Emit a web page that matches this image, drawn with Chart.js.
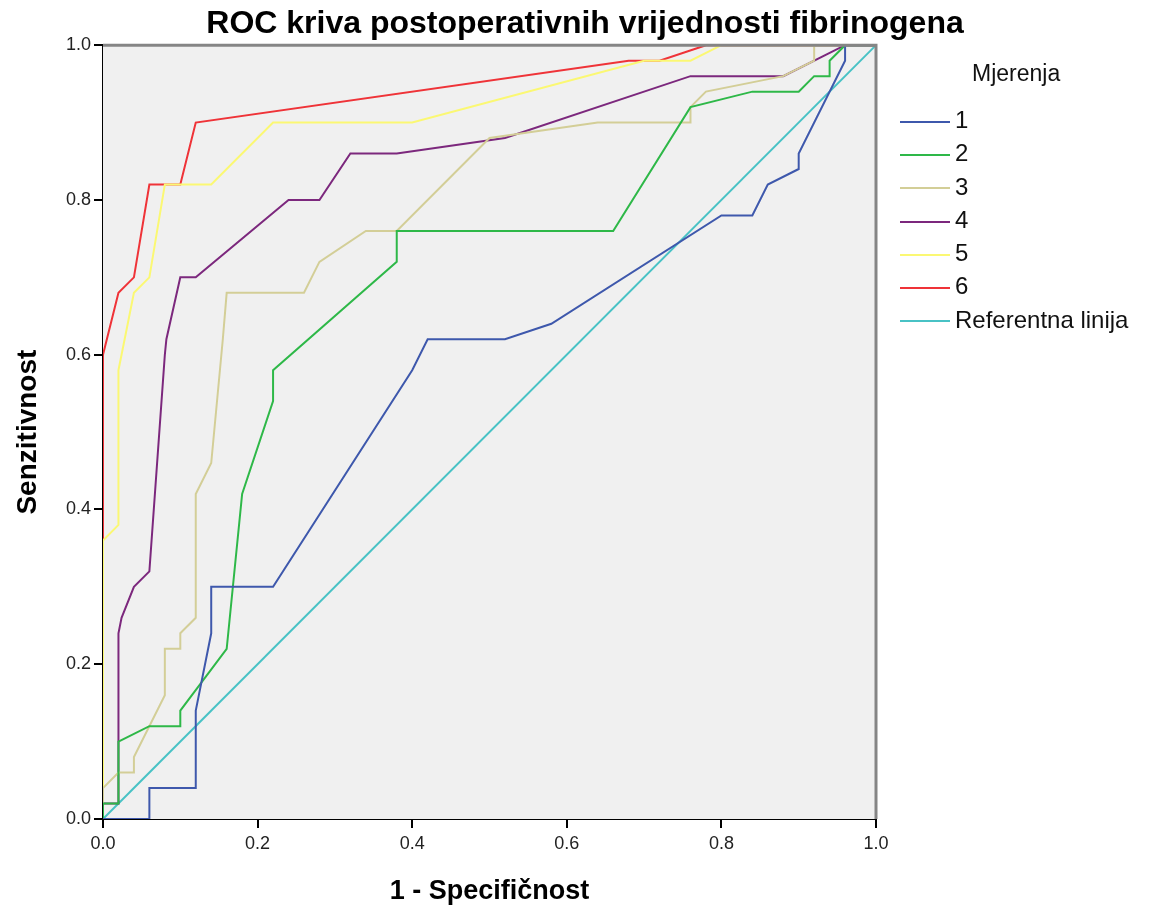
<!DOCTYPE html>
<html>
<head>
<meta charset="utf-8">
<script src="https://cdn.jsdelivr.net/npm/chart.js@4"></script>
<style>
  body { margin: 0; background: #fff; }
  #wrap { position: relative; width: 1150px; height: 912px; }
  #legend { position: absolute; left: 900px; top: 55px; font-family: "Liberation Sans", Arial, sans-serif; color: #111; }
  #legend .ttl { font-size: 23px; margin-left: 72px; height: 48px; line-height: 36px; }
  #legend .row { height: 33.3px; line-height: 33.3px; font-size: 24px; white-space: nowrap; }
  #legend .sw { display: inline-block; width: 50px; height: 2px; vertical-align: middle; margin-right: 5px; }
</style>
</head>
<body>
<div id="wrap">
  <canvas id="roc" width="1150" height="912"></canvas>
  <div id="legend"><div class="ttl">Mjerenja</div></div>
</div>
<script>
// ROC points: x = 1 - specificity, y = sensitivity
const labels = ['1', '2', '3', '4', '5', '6', 'Referentna linija'];
const colors = ['#3E58AC', '#2EB848', '#D3CE97', '#7C287D', '#FBF873', '#EF3338', '#48C2C5'];

const fpr1 = [0, 0.06, 0.06, 0.12, 0.12, 0.14, 0.14, 0.22, 0.40, 0.42, 0.52, 0.58, 0.80, 0.84, 0.86, 0.90, 0.90, 0.96, 0.96, 1.0];
const tpr1 = [0, 0, 0.04, 0.04, 0.14, 0.24, 0.30, 0.30, 0.58, 0.62, 0.62, 0.64, 0.78, 0.78, 0.82, 0.84, 0.86, 0.98, 1.0, 1.0];

const fpr2 = [0, 0, 0.02, 0.02, 0.06, 0.10, 0.10, 0.16, 0.18, 0.22, 0.22, 0.38, 0.38, 0.66, 0.76, 0.84, 0.90, 0.92, 0.94, 0.94, 0.96, 1.0];
const tpr2 = [0, 0.02, 0.02, 0.10, 0.12, 0.12, 0.14, 0.22, 0.42, 0.54, 0.58, 0.72, 0.76, 0.76, 0.92, 0.94, 0.94, 0.96, 0.96, 0.98, 1.0, 1.0];

const fpr3 = [0, 0, 0.02, 0.04, 0.04, 0.08, 0.08, 0.10, 0.10, 0.12, 0.12, 0.14, 0.155, 0.16, 0.26, 0.28, 0.34, 0.38, 0.50, 0.64, 0.76, 0.76, 0.78, 0.88, 0.92, 0.92, 1.0];
const tpr3 = [0, 0.04, 0.06, 0.06, 0.08, 0.16, 0.22, 0.22, 0.24, 0.26, 0.42, 0.46, 0.62, 0.68, 0.68, 0.72, 0.76, 0.76, 0.88, 0.90, 0.90, 0.92, 0.94, 0.96, 0.98, 1.0, 1.0];

const fpr4 = [0, 0, 0.02, 0.02, 0.024, 0.04, 0.06, 0.08, 0.082, 0.10, 0.12, 0.24, 0.28, 0.32, 0.38, 0.52, 0.76, 0.88, 0.96, 1.0];
const tpr4 = [0, 0.02, 0.02, 0.24, 0.26, 0.30, 0.32, 0.60, 0.62, 0.70, 0.70, 0.80, 0.80, 0.86, 0.86, 0.88, 0.96, 0.96, 1.0, 1.0];

const fpr5 = [0, 0, 0.02, 0.02, 0.04, 0.06, 0.08, 0.14, 0.22, 0.40, 0.70, 0.76, 0.80, 1.0];
const tpr5 = [0, 0.36, 0.38, 0.58, 0.68, 0.70, 0.82, 0.82, 0.90, 0.90, 0.98, 0.98, 1.0, 1.0];

const fpr6 = [0, 0, 0.02, 0.04, 0.06, 0.10, 0.12, 0.68, 0.72, 0.78, 1.0];
const tpr6 = [0, 0.60, 0.68, 0.70, 0.82, 0.82, 0.90, 0.98, 0.98, 1.0, 1.0];

const fprRef = [0, 1];
const tprRef = [0, 1];

const axisTicks = [0, 0.2, 0.4, 0.6, 0.8, 1.0];

function pts(xs, ys) {
    return xs.map((x, i) => ({ x: x, y: ys[i] }));
}

const series = [
    pts(fpr1, tpr1), pts(fpr2, tpr2), pts(fpr3, tpr3), pts(fpr4, tpr4),
    pts(fpr5, tpr5), pts(fpr6, tpr6), pts(fprRef, tprRef)
];

const datasets = series.map((d, i) => ({
    label: labels[i],
    data: d,
    borderColor: colors[i],
    borderWidth: 2,
    pointRadius: 0,
    tension: 0,
    fill: false
}));

// html legend
const legendEl = document.getElementById('legend');
labels.forEach((lab, i) => {
    const row = document.createElement('div');
    row.className = 'row';
    row.innerHTML = '<span class="sw" style="background:' + colors[i] + '"></span>' + lab;
    legendEl.appendChild(row);
});

// plot background and the grey top/right frame
const frame = {
    id: 'frame',
    beforeDatasetsDraw(chart) {
        const a = chart.chartArea, ctx = chart.ctx;
        ctx.save();
        ctx.fillStyle = '#f0f0f0';
        ctx.fillRect(a.left, a.top, a.right - a.left, a.bottom - a.top);
        ctx.restore();
    },
    afterDraw(chart) {
        const a = chart.chartArea, ctx = chart.ctx;
        ctx.save();
        ctx.strokeStyle = '#858585';
        ctx.lineWidth = 3;
        ctx.beginPath();
        ctx.moveTo(a.left, a.top);
        ctx.lineTo(a.right, a.top);
        ctx.lineTo(a.right, a.bottom);
        ctx.stroke();
        ctx.restore();
    }
};

const fam = '"Liberation Sans", Arial, sans-serif';
const tickFont = { family: fam, size: 18 };

new Chart(document.getElementById('roc'), {
    type: 'line',
    data: { datasets: datasets },
    plugins: [frame],
    options: {
        responsive: false,
        animation: false,
        layout: { padding: { left: 20, right: 0, top: 0, bottom: 0 } },
        plugins: {
            legend: { display: false },
            tooltip: { enabled: false },
            title: {
                display: true,
                text: 'ROC kriva postoperativnih vrijednosti fibrinogena',
                color: '#000',
                font: { family: fam, size: 32, weight: 'bold', lineHeight: 1.1 },
                padding: { top: 7, bottom: 3 }
            }
        },
        scales: {
            x: {
                type: 'linear',
                min: 0, max: 1,
                afterFit(scale) { scale.height = 93; },
                afterBuildTicks(scale) { scale.ticks = axisTicks.map(v => ({ value: v })); },
                ticks: { color: '#222', font: tickFont, padding: 5, callback: v => v.toFixed(1) },
                grid: { drawOnChartArea: false, tickLength: 9, color: '#000', lineWidth: 2 },
                border: { color: '#000', width: 2 },
                title: { display: true, text: '1 - Specifičnost', color: '#000', font: { family: fam, size: 27, weight: 'bold', lineHeight: 1.2 }, padding: { top: 0, bottom: 4 } }
            },
            y: {
                type: 'linear',
                min: 0, max: 1,
                afterFit(scale) { scale.width = 83; },
                afterBuildTicks(scale) { scale.ticks = axisTicks.map(v => ({ value: v })); },
                ticks: { color: '#222', font: tickFont, padding: 3, callback: v => v.toFixed(1) },
                grid: { drawOnChartArea: false, tickLength: 9, color: '#000', lineWidth: 2 },
                border: { color: '#000', width: 2 },
                title: { display: true, text: 'Senzitivnost', color: '#000', font: { family: fam, size: 28, weight: 'bold', lineHeight: 0.6 }, padding: { top: 0, bottom: 0 } }
            },
            // empty right-hand axis that keeps room for the legend
            spacer: {
                type: 'linear',
                position: 'right',
                afterFit(scale) { scale.width = 274; },
                ticks: { display: false },
                grid: { display: false, drawOnChartArea: false },
                border: { display: false }
            }
        }
    }
});
</script>
</body>
</html>
